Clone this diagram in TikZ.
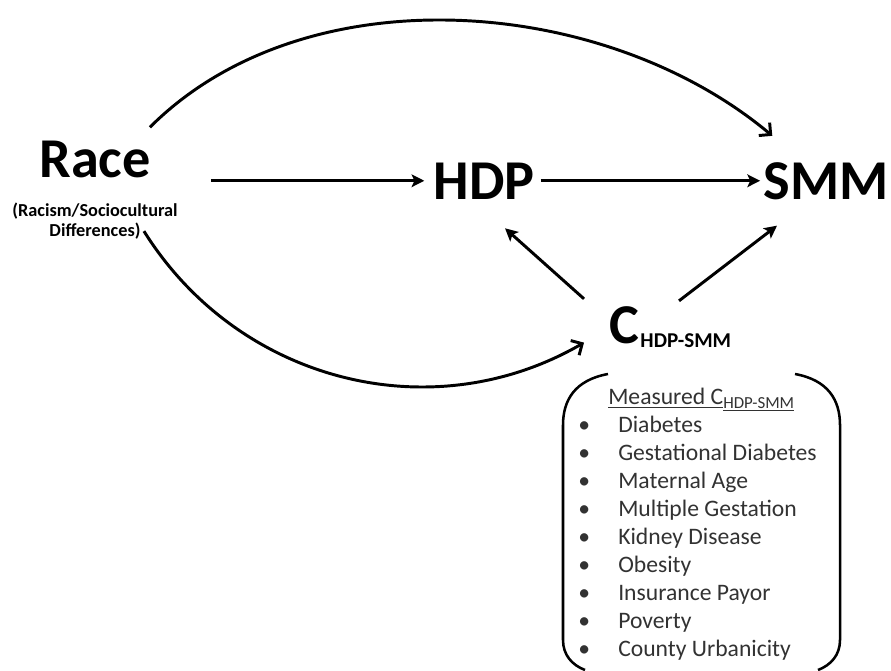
\documentclass[tikz,border=0pt]{standalone}
\usepackage{fontspec}
\setmainfont{Carlito}
\usetikzlibrary{arrows.meta,positioning}
\definecolor{listgray}{RGB}{50,50,50}

\tikzset{
  bigtext/.style={font=\fontsize{40}{44}\selectfont\bfseries, inner sep=0pt},
  subtext/.style={font=\fontsize{13}{14.5}\selectfont\bfseries, align=center, inner sep=0pt},
  listtext/.style={font=\fontsize{16.8}{19.9}\selectfont, text=listgray, inner sep=0pt},
  arr/.style={line width=2.1pt, -{Stealth[length=9pt,width=9pt,inset=2pt]}},
  curvearr/.style={line width=2.1pt, -{Straight Barb[length=6pt,width=12pt,line width=2.1pt]}},
  bracket/.style={line width=1.8pt}
}

\begin{document}
\begin{tikzpicture}[x=0.025cm,y=-0.025cm]
\useasboundingbox (0,0) rectangle (891,670);
% main variables
\node[bigtext, anchor=base] (race) at (95,177) {Race};
\node[subtext, below=0.62cm of race] (racesub) {(Racism/Sociocultural\\Differences)};
\node[bigtext, anchor=base] (hdp) at (484,199) {HDP};
\node[bigtext, anchor=base] (smm) at (826,199) {SMM};
\node[bigtext, anchor=base west] (c) at (609,343) {C\hspace{1pt}\raisebox{-0.1cm}{\fontsize{15}{15}\selectfont HDP-SMM}};
% measured confounders
\node[listtext, anchor=north west] (meas) at (578,385) {%
  \begin{tabular}{@{}p{1.0cm}@{}l@{}}
  \multicolumn{2}{@{\hspace{0.75cm}}l@{}}{\underline{Measured C}\raisebox{-2.5pt}{\fontsize{12}{12}\selectfont\underline{HDP-SMM}}}\\
  \textbullet & Diabetes\\
  \textbullet & Gestational Diabetes\\
  \textbullet & Maternal Age\\
  \textbullet & Multiple Gestation\\
  \textbullet & Kidney Disease\\
  \textbullet & Obesity\\
  \textbullet & Insurance Payor\\
  \textbullet & Poverty\\
  \textbullet & County Urbanicity
  \end{tabular}};
\draw[bracket] (608,374) .. controls (575,380) and (563,400) .. (563,425) -- (563,640)
  .. controls (563,655) and (572,665) .. (585,670);
\draw[bracket] (795,374) .. controls (828,380) and (840,400) .. (840,425) -- (840,640)
  .. controls (840,655) and (831,665) .. (818,670);
% paths
\draw[arr, shorten <=1.5cm, shorten >=0.225cm] (race.east |- hdp.west) -- (hdp.west);
\draw[arr, shorten <=0.15cm, shorten >=0.08cm] (hdp.east) -- (smm.west |- hdp.east);
\draw[arr] ([shift={(-25,-7)}]c.north west) -- ([shift={(21,29)}]hdp.south);
\draw[arr] ([shift={(70,-5)}]c.north west) -- ([shift={(-49,26)}]smm.south);
\draw[curvearr] ([shift={(-1,-13)}]race.north east) to[out=45,in=140,looseness=0.9] ([shift={(9,-26)}]smm.north west);
\draw[curvearr] ([shift={(-34,10)}]racesub.east) to[out=-58,in=210] ([shift={(-25,16)}]c.west);
\end{tikzpicture}
\end{document}
